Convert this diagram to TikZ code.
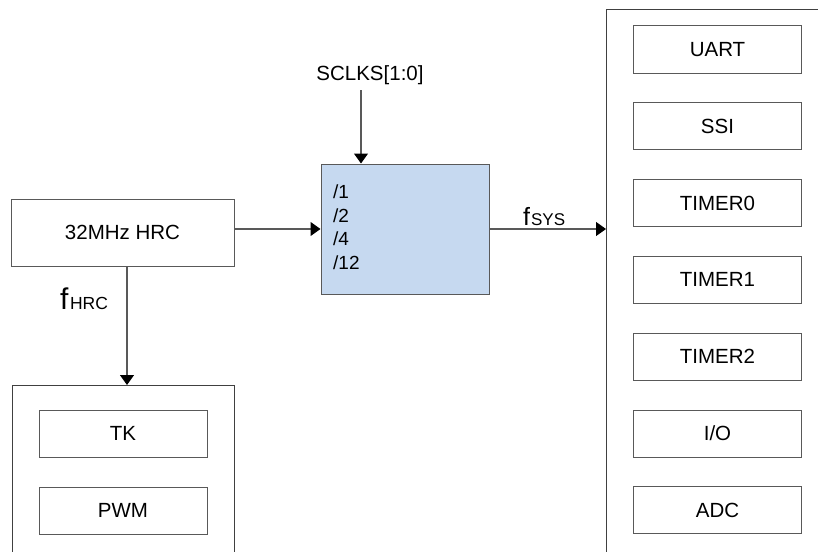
\documentclass[tikz,border=0pt]{standalone}
\usepackage{fontspec}
\setmainfont{Liberation Sans}
\usetikzlibrary{arrows.meta,positioning,calc}
\definecolor{divblue}{HTML}{C6D9F0}

\begin{document}
\begin{tikzpicture}[x=1pt,y=-1pt,
        box/.style={draw=black!65, line width=1pt, minimum width=168pt, minimum height=47pt, inner sep=0pt, font=\fontsize{20.5}{24}\selectfont},
        grp/.style={draw=black!75, line width=1pt, anchor=north west, inner sep=0pt},
        arr/.style={draw=black!65, line width=1.1pt, -{Triangle[length=10pt,width=14pt,color=black]}},
        txt/.style={inner sep=0pt, font=\fontsize{20.5}{24}\selectfont}]

        \useasboundingbox (0,0) rectangle (818,551);
        \clip (0,0) rectangle (818,551);

        %% clock source and divider
        \node [box, minimum width=223pt, minimum height=67pt] (hrc) at (122.5,232.5) {32MHz HRC};
        \node [box, fill=divblue, minimum height=130pt] (div) at (405,229) {};
        \node [txt, anchor=north west, align=left, font=\fontsize{19}{23.5}\selectfont] (ratio) at (333,185) {/1\\/2\\/4\\/12};
        \node [txt] (sclks) at (370,75) {SCLKS[1:0]};
        \coordinate (sel) at (361,90);

        %% peripherals on fSYS
        \node [grp, minimum width=240pt, minimum height=560pt] (periph) at (606,9) {};
        \foreach \name [count=\i from 0] in {UART,SSI,TIMER0,TIMER1,TIMER2,I/O,ADC} {
          \node [box,name=periph_\i] at (717.5,49.5+76.8*\i) {\name};
        }

        %% peripherals on fHRC
        \node [grp, minimum width=222pt, minimum height=200pt] (tkgrp) at (12,385) {};
        \node [box] (tk) at (123,433.5) {TK};
        \node [box] (pwm) at (123,510.5) {PWM};

        \draw [arr] (hrc.east |- div.west) -- (div.west);
        \draw [arr] (sel) -- (sel |- div.north);
        \draw [arr] (div.east) -- (div.east -| periph.west);
        \draw [arr] ([xshift=4.5pt]hrc.south) -- ([xshift=4.5pt]hrc.south |- tkgrp.north);

        \node [anchor=base west, inner sep=0pt] (fhrc) at (60,309) {{\fontsize{30}{30}\selectfont f}\kern1.5pt{\fontsize{17.5}{17.5}\selectfont HRC}};
        \node [anchor=base west, inner sep=0pt] (fsys) at (523,225) {{\fontsize{25}{25}\selectfont f}\kern1pt{\fontsize{17}{17}\selectfont SYS}};

\end{tikzpicture}
\end{document}
